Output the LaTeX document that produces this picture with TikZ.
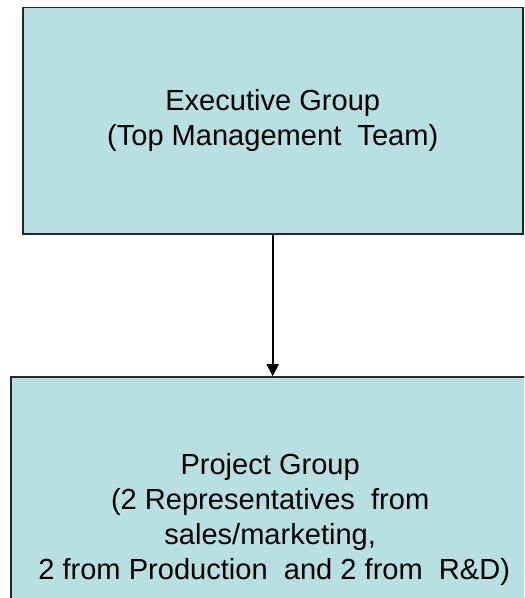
\documentclass[tikz,border=0pt]{standalone}
\usepackage{fontspec}
\setmainfont{Liberation Sans}
\usetikzlibrary{arrows.meta}

\definecolor{boxfill}{RGB}{184,223,226}

\tikzset{
  group/.style={draw=black!85, line width=1.2pt, fill=boxfill, align=center,
    font=\fontsize{21.8}{26.3}\selectfont},
  link/.style={line width=1.5pt, -{Triangle[length=9pt,width=9pt]}}
}

\begin{document}
\begin{tikzpicture}[x=0.75pt,y=-0.75pt]
		\useasboundingbox (0,0) rectangle (524,598);
		\clip (0,0) rectangle (524,598);
		\node[group, minimum width=500*0.75pt, minimum height=226.7*0.75pt] (exec) at (272.7,120.7)
			{Executive Group\\(Top Management\ \ Team)};
		% lower box runs off the page on the right, text kept near x=270
		\node[group, minimum width=549*0.75pt, minimum height=286*0.75pt] (proj) at (285.5,520)
			{\begin{tabular}{@{}c@{}}Project Group\\(2 Representatives\ \ from\\sales/marketing,\\\ 2 from Production\ \ and 2 from\ \ R\&D)\end{tabular}\hspace*{23pt}};
		\draw[link] (exec.south) -- (exec.south |- proj.north);
	\end{tikzpicture}
\end{document}
